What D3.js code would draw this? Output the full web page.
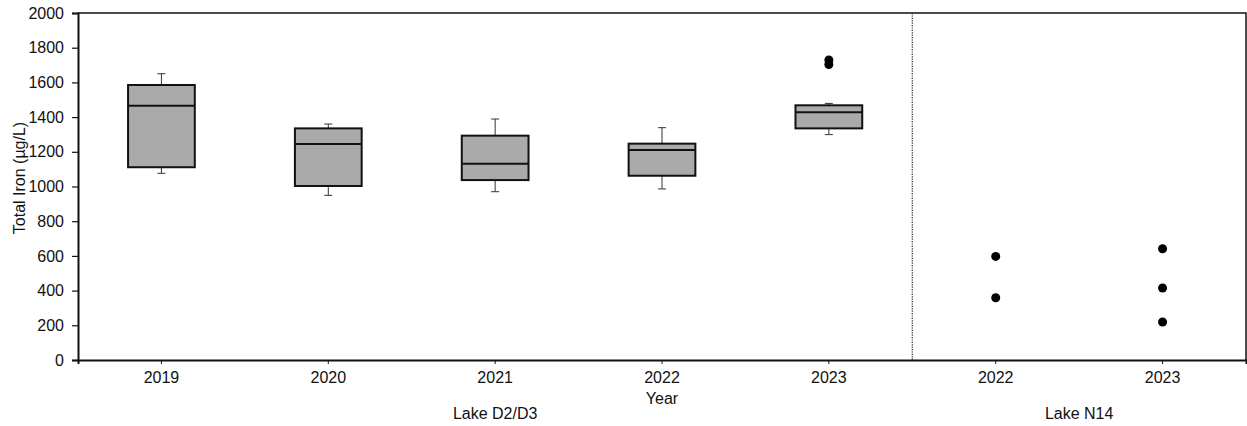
<!DOCTYPE html>
<html>
<head>
<meta charset="utf-8">
<script src="https://cdn.jsdelivr.net/npm/d3@7"></script>
<style>
  html, body { margin: 0; padding: 0; background: #fff; }
  svg text { font-family: "Liberation Sans", Arial, sans-serif; fill: #111; }
</style>
</head>
<body>
<svg id="chart" width="1247" height="426"></svg>
<script>
// Categories along the x axis (site + year)
const categories = ["D2/D3 2019", "D2/D3 2020", "D2/D3 2021", "D2/D3 2022", "D2/D3 2023", "N14 2022", "N14 2023"];
const tickLabels = ["2019", "2020", "2021", "2022", "2023", "2022", "2023"];

// Box-plot summaries for Lake D2/D3 (µg/L)
const boxCategories = ["D2/D3 2019", "D2/D3 2020", "D2/D3 2021", "D2/D3 2022", "D2/D3 2023"];
const whiskerLow  = [1076,  949,  970,  986, 1299];
const q1          = [1111, 1003, 1037, 1062, 1335];
const median      = [1466, 1245, 1131, 1210, 1428];
const q3          = [1585, 1335, 1293, 1247, 1468];
const whiskerHigh = [1650, 1360, 1389, 1339, 1479];

// Individual points: outliers and small-sample years
const pointCategories = ["D2/D3 2023", "D2/D3 2023", "N14 2022", "N14 2022", "N14 2023", "N14 2023", "N14 2023"];
const pointValues     = [1729, 1703, 597, 359, 641, 415, 219];

const yTicks = [0, 200, 400, 600, 800, 1000, 1200, 1400, 1600, 1800, 2000];

(function draw() {
  const svg = d3.select("#chart");
  const mL = 78, mR = 1246, mT = 13, mB = 360;
  const fs = "16px";

  const x = d3.scaleBand().domain(categories).range([mL, mR]);
  const y = d3.scaleLinear().domain([0, 2000]).range([mB, mT]);
  const bw = x.bandwidth();
  const cx = c => x(c) + bw / 2;

  // Frame (top and right)
  svg.append("path")
    .attr("d", `M${mL},${mT}H${mR}V${mB}`)
    .attr("fill", "none").attr("stroke", "#111").attr("stroke-width", 1.5);

  // Dotted separator between lakes
  const sep = (x(categories[4]) + bw + x(categories[5])) / 2;
  svg.append("line")
    .attr("x1", sep).attr("x2", sep).attr("y1", mT).attr("y2", mB)
    .attr("stroke", "#222").attr("stroke-width", 1.2).attr("stroke-dasharray", "1.2,1.2");

  // Y axis
  const yAxis = svg.append("g").attr("transform", `translate(${mL},0)`)
    .call(d3.axisLeft(y).tickValues(yTicks).tickSize(6).tickPadding(8).tickFormat(d3.format("d")));
  yAxis.select(".domain").attr("stroke", "#111").attr("stroke-width", 2);
  yAxis.selectAll(".tick line").attr("stroke", "#111").attr("stroke-width", 1.2);
  yAxis.selectAll(".tick text").attr("font-size", fs).attr("fill", "#111");

  // X axis
  const xAxis = svg.append("g").attr("transform", `translate(0,${mB})`)
    .call(d3.axisBottom(x).tickSize(4).tickPadding(8).tickFormat((d, i) => tickLabels[i]));
  xAxis.select(".domain").attr("stroke", "#111").attr("stroke-width", 2);
  xAxis.selectAll(".tick line").attr("stroke", "#111").attr("stroke-width", 1);
  xAxis.selectAll(".tick text").attr("font-size", fs).attr("fill", "#111");

  // Axis titles
  svg.append("text")
    .attr("transform", `translate(25,178) rotate(-90)`)
    .attr("text-anchor", "middle").attr("font-size", fs)
    .text("Total Iron (µg/L)");
  svg.append("text")
    .attr("x", (mL + mR) / 2).attr("y", 404)
    .attr("text-anchor", "middle").attr("font-size", fs).text("Year");
  svg.append("text")
    .attr("x", cx(categories[2])).attr("y", 419)
    .attr("text-anchor", "middle").attr("font-size", fs).text("Lake D2/D3");
  svg.append("text")
    .attr("x", (cx(categories[5]) + cx(categories[6])) / 2).attr("y", 419)
    .attr("text-anchor", "middle").attr("font-size", fs).text("Lake N14");

  // Box plots
  const boxW = bw * 0.4, capW = 8;
  const boxes = boxCategories.map((c, i) => ({
    c, lo: whiskerLow[i], q1: q1[i], med: median[i], q3: q3[i], hi: whiskerHigh[i]
  }));
  const g = svg.append("g");
  boxes.forEach(b => {
    const xc = cx(b.c);
    // whiskers and caps
    g.append("line").attr("x1", xc).attr("x2", xc).attr("y1", y(b.q3)).attr("y2", y(b.hi))
      .attr("stroke", "#333").attr("stroke-width", 1);
    g.append("line").attr("x1", xc).attr("x2", xc).attr("y1", y(b.q1)).attr("y2", y(b.lo))
      .attr("stroke", "#333").attr("stroke-width", 1);
    g.append("line").attr("x1", xc - capW / 2).attr("x2", xc + capW / 2).attr("y1", y(b.hi)).attr("y2", y(b.hi))
      .attr("stroke", "#333").attr("stroke-width", 1);
    g.append("line").attr("x1", xc - capW / 2).attr("x2", xc + capW / 2).attr("y1", y(b.lo)).attr("y2", y(b.lo))
      .attr("stroke", "#333").attr("stroke-width", 1);
    // box
    g.append("rect").attr("x", xc - boxW / 2).attr("width", boxW)
      .attr("y", y(b.q3)).attr("height", y(b.q1) - y(b.q3))
      .attr("fill", "#aaaaaa").attr("stroke", "#111").attr("stroke-width", 2);
    // median
    g.append("line").attr("x1", xc - boxW / 2).attr("x2", xc + boxW / 2).attr("y1", y(b.med)).attr("y2", y(b.med))
      .attr("stroke", "#111").attr("stroke-width", 2);
  });

  // Points
  svg.append("g").selectAll("circle")
    .data(pointValues.map((v, i) => ({ c: pointCategories[i], v })))
    .join("circle")
    .attr("cx", d => cx(d.c)).attr("cy", d => y(d.v)).attr("r", 4.5)
    .attr("fill", "#000");
})();
</script>
</body>
</html>
